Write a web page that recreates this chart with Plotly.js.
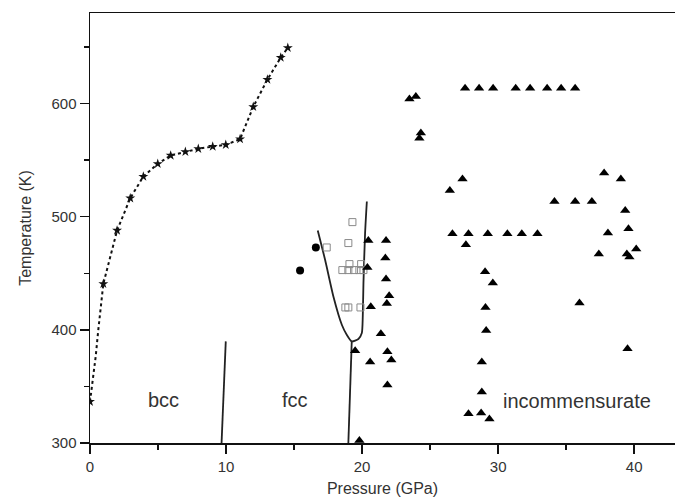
<!DOCTYPE html>
<html>
<head>
<meta charset="utf-8">
<script src="https://cdn.plot.ly/plotly-3.0.1.min.js"></script>
<style>html,body{margin:0;padding:0;background:#fff;}#chart{width:676px;height:497px;}</style>
</head>
<body>
<div id="chart"></div>
<script>
// Melting curve (stars)
const starP = [0.0, 0.98, 1.99, 2.96, 3.92, 4.98, 5.93, 7.01, 7.96, 9.02, 9.98, 11.03, 12.0, 13.04, 14.02, 14.54];
const starT = [336.5, 440.7, 487.8, 516.4, 535.5, 546.7, 554.1, 557.3, 560.0, 562.0, 563.5, 568.6, 597.1, 621.2, 640.6, 649.2];
// dotted melting line (through stars, with the curved low-pressure part)
const meltP = [0.0, 0.2, 0.42, 0.61, 0.98, 1.99, 2.96, 3.92, 4.98, 5.93, 7.01, 7.96, 9.02, 9.98, 11.03, 12.0, 13.04, 14.02, 14.54];
const meltT = [336.5, 355.0, 376.6, 400.0, 440.7, 487.8, 516.4, 535.5, 546.7, 554.1, 557.3, 560.0, 562.0, 563.5, 568.6, 597.1, 621.2, 640.6, 649.2];

// bcc / fcc boundary
const bccFccP = [9.67, 9.98];
const bccFccT = [300, 389.8];
// fcc / incommensurate boundary (vertical stem)
const fccIncP = [18.99, 19.24];
const fccIncT = [300, 389.8];
// U-shaped boundary
const uP = [16.74, 17.28, 17.89, 18.51, 18.87, 19.24, 19.73, 19.98, 20.05, 20.10, 20.22, 20.35];
const uT = [487.8, 461.9, 429.5, 404.5, 395.7, 389.8, 391.9, 397.2, 411.8, 441.3, 485.5, 513.4];

// filled circles
const circP = [16.6, 15.44];
const circT = [472.8, 452.5];

// open squares
const sqP = [19.29, 18.99, 17.40, 19.07, 19.93, 18.55, 18.99, 19.41, 19.80, 20.10, 18.77, 18.99, 19.88];
const sqT = [495.2, 476.7, 472.8, 458.1, 458.1, 452.8, 452.8, 452.8, 452.8, 452.8, 419.8, 419.8, 419.8];

// filled triangles
const triP = [20.46, 21.76, 21.71, 20.39, 21.76, 21.99, 21.82, 20.64, 21.38, 19.49, 21.86, 20.59, 22.15, 21.86, 19.80,
  23.48, 23.95, 24.32, 24.21,
  27.57, 28.60, 29.63, 31.29, 32.35, 33.60, 34.63, 35.66,
  27.38, 26.45, 34.14, 35.66, 36.89, 37.79, 39.02, 39.34,
  26.64, 27.82, 29.24, 30.68, 31.74, 32.89, 27.63, 38.07, 39.58, 37.40, 39.46, 40.15, 39.65,
  29.04, 29.61, 29.07, 29.12, 35.98, 39.51, 28.80, 28.80, 27.82, 28.75, 29.36];
const triT = [479.0, 479.0, 463.4, 455.1, 444.9, 430.1, 423.3, 420.4, 396.6, 381.5, 380.7, 371.6, 373.3, 351.2, 302.3,
  603.9, 606.2, 573.9, 569.4,
  613.6, 613.6, 613.6, 613.6, 613.6, 613.6, 613.6, 613.6,
  533.2, 523.1, 513.4, 513.4, 513.4, 538.5, 533.2, 505.5,
  484.9, 484.9, 484.9, 484.9, 484.9, 484.9, 475.2, 485.5, 489.3, 467.0, 467.0, 471.4, 464.3,
  451.3, 441.3, 419.8, 399.5, 423.7, 383.3, 371.6, 345.1, 325.9, 326.5, 321.2];

// phase labels
const phaseNames = ['bcc', 'fcc', 'incommensurate'];
const phaseP = [5.37, 15.07, 35.8];
const phaseT = [338, 338, 337.5];

const xTicks = [0, 10, 20, 30, 40];
const yTicks = [300, 400, 500, 600];

const traces = [
  {x: meltP, y: meltT, mode: 'lines', line: {color: '#111', width: 2, dash: '3px,3px'}, hoverinfo: 'skip'},
  {x: starP, y: starT, mode: 'markers', marker: {symbol: 'star', size: 7.5, color: '#111'}},
  {x: bccFccP, y: bccFccT, mode: 'lines', line: {color: '#222', width: 1.8}},
  {x: fccIncP, y: fccIncT, mode: 'lines', line: {color: '#222', width: 1.8}},
  {x: uP, y: uT, mode: 'lines', line: {color: '#222', width: 1.8, shape: 'spline', smoothing: 0.6}},
  {x: sqP, y: sqT, mode: 'markers', marker: {symbol: 'square-open', size: 7, color: '#8a8a8a', line: {width: 1}}},
  {x: circP, y: circT, mode: 'markers', marker: {symbol: 'circle', size: 8, color: '#000'}},
  {x: triP, y: triT, mode: 'markers', marker: {symbol: 'triangle-up', size: 9, color: '#000'}}
];

const annotations = phaseNames.map((t, i) => ({
  x: phaseP[i], y: phaseT[i], xref: 'x', yref: 'y', text: t, showarrow: false,
  font: {family: 'Liberation Sans, Arial, sans-serif', size: 20, color: '#333'}
}));

const layout = {
  width: 676, height: 497,
  margin: {l: 90, r: 1, t: 13, b: 54},
  paper_bgcolor: '#fff', plot_bgcolor: '#fff',
  showlegend: false,
  font: {family: 'Liberation Sans, Arial, sans-serif', color: '#333', size: 15},
  xaxis: {
    range: [0, 43.0], tickvals: xTicks, ticktext: xTicks.map(String),
    ticks: 'outside', ticklen: 9, tickwidth: 1.5, tickcolor: '#111',
    showline: true, linecolor: '#111', linewidth: 1.5, mirror: true,
    showgrid: false, zeroline: false,
    minor: {dtick: 5, tick0: 0, ticks: 'outside', ticklen: 5, tickwidth: 1.5, tickcolor: '#111', showgrid: false},
    tickfont: {size: 15, color: '#333'},
    title: {text: 'Pressure (GPa)', font: {size: 16, color: '#333'}, standoff: 11},
    automargin: false
  },
  yaxis: {
    range: [300, 680], tickvals: yTicks, ticktext: yTicks.map(String),
    ticks: 'outside', ticklen: 9, tickwidth: 1.5, tickcolor: '#111',
    showline: true, linecolor: '#111', linewidth: 1.5, mirror: false,
    showgrid: false, zeroline: false,
    minor: {dtick: 50, tick0: 300, ticks: 'outside', ticklen: 5, tickwidth: 1.5, tickcolor: '#111', showgrid: false},
    tickfont: {size: 15, color: '#333'},
    title: {text: 'Temperature (K)', font: {size: 16, color: '#333'}, standoff: 16},
    automargin: false
  },
  annotations: annotations
};

Plotly.newPlot('chart', traces, layout, {displayModeBar: false, staticPlot: true});
</script>
</body>
</html>
